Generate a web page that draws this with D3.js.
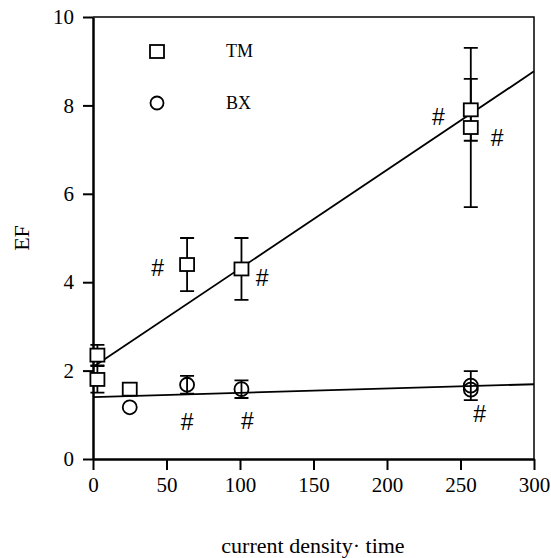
<!DOCTYPE html>
<html>
<head>
<meta charset="utf-8">
<script src="https://cdn.jsdelivr.net/npm/d3@7"></script>
<style>
  body { margin: 0; background: #fff; }
</style>
</head>
<body>
<script>
"use strict";

// TM series (squares)
const tmX = [3, 3, 25, 64, 101, 257, 257];
const tmY = [2.35, 1.8, 1.58, 4.4, 4.3, 7.9, 7.5];
const tmErr = [0.23, 0.3, 0, 0.6, 0.7, 0.7, 1.8];

// BX series (circles)
const bxX = [25, 64, 101, 257, 257];
const bxY = [1.17, 1.68, 1.58, 1.66, 1.57];
const bxErr = [0, 0.2, 0.2, 0.33, 0];

// fitted lines [intercept, slope]
const tmFit = [2.08, 0.0223];
const bxFit = [1.40, 0.00097];

// "#" marks (data coords)
const hashX = [44, 115, 235, 275, 64, 105, 263];
const hashY = [4.32, 4.1, 7.74, 7.26, 0.84, 0.86, 1.02];

const xTicks = [0, 50, 100, 150, 200, 250, 300];
const yTicks = [0, 2, 4, 6, 8, 10];

var serif = "'Liberation Serif', 'Times New Roman', serif";
var sans = "'Liberation Sans', Arial, sans-serif";

var width = 551, height = 558;
var margin = {top: 17, right: 17, bottom: 99, left: 93};

var x = d3.scaleLinear().domain([0, 300]).range([margin.left, width - margin.right]);
var y = d3.scaleLinear().domain([0, 10]).range([height - margin.bottom, margin.top]);

var svg = d3.select("body").append("svg")
    .attr("width", width)
    .attr("height", height);

// frame top/right
svg.append("path")
    .attr("d", "M" + x(0) + "," + y(10) + "H" + x(300) + "V" + y(0))
    .attr("fill", "none").attr("stroke", "#000").attr("stroke-width", 1.5);

// axes
var xAxis = svg.append("g")
    .attr("transform", "translate(0," + y(0) + ")")
    .call(d3.axisBottom(x).tickValues(xTicks).tickSize(11).tickSizeOuter(0).tickPadding(7));
var yAxis = svg.append("g")
    .attr("transform", "translate(" + x(0) + ",0)")
    .call(d3.axisLeft(y).tickValues(yTicks).tickSize(10).tickSizeOuter(0).tickPadding(9));

[xAxis, yAxis].forEach(function(g) {
  g.select(".domain").attr("stroke-width", 2.5);
  g.selectAll(".tick line").attr("stroke-width", 2);
  g.selectAll(".tick text")
    .style("font-family", serif)
    .style("font-size", "21px")
    .attr("fill", "#000");
});

// fit lines
function fitLine(f) {
  return d3.line()([[x(0), y(f[0])], [x(300), y(f[0] + f[1] * 300)]]);
}
svg.append("path").attr("d", fitLine(tmFit)).attr("stroke", "#000").attr("stroke-width", 1.8).attr("fill", "none");
svg.append("path").attr("d", fitLine(bxFit)).attr("stroke", "#000").attr("stroke-width", 1.8).attr("fill", "none");

// error bars
function errorBars(xs, ys, es) {
  var g = svg.append("g").attr("stroke", "#000").attr("stroke-width", 1.8).attr("fill", "none");
  xs.forEach(function(xv, i) {
    if (!es[i]) return;
    var cx = x(xv), y1 = y(ys[i] + es[i]), y0 = y(ys[i] - es[i]);
    g.append("path").attr("d",
      "M" + cx + "," + y0 + "V" + y1 +
      "M" + (cx - 7) + "," + y1 + "H" + (cx + 7) +
      "M" + (cx - 7) + "," + y0 + "H" + (cx + 7));
  });
}
errorBars(tmX, tmY, tmErr);
errorBars(bxX, bxY, bxErr);

// markers
svg.append("g").selectAll("rect")
  .data(tmX.map(function(d, i) { return [d, tmY[i]]; }))
  .enter().append("rect")
    .attr("x", function(d) { return x(d[0]) - 7; })
    .attr("y", function(d) { return y(d[1]) - 6.5; })
    .attr("width", 14).attr("height", 13)
    .attr("fill", "#fff").attr("stroke", "#000").attr("stroke-width", 1.8);

svg.append("g").selectAll("circle")
  .data(bxX.map(function(d, i) { return [d, bxY[i]]; }))
  .enter().append("circle")
    .attr("cx", function(d) { return x(d[0]); })
    .attr("cy", function(d) { return y(d[1]); })
    .attr("r", 7)
    .attr("fill", "none").attr("stroke", "#000").attr("stroke-width", 1.8);

// # marks
svg.append("g").selectAll("text")
  .data(hashX.map(function(d, i) { return [d, hashY[i]]; }))
  .enter().append("text")
    .attr("x", function(d) { return x(d[0]); })
    .attr("y", function(d) { return y(d[1]); })
    .attr("dy", "0.35em")
    .attr("text-anchor", "middle")
    .style("font-family", sans)
    .style("font-size", "23px")
    .text("#");

// legend
var leg = svg.append("g");
leg.append("rect").attr("x", 150).attr("y", 45).attr("width", 14).attr("height", 13)
  .attr("fill", "#fff").attr("stroke", "#000").attr("stroke-width", 1.8);
leg.append("circle").attr("cx", 157).attr("cy", 103).attr("r", 6.5)
  .attr("fill", "none").attr("stroke", "#000").attr("stroke-width", 1.8);
leg.selectAll("text.lab")
  .data([["TM", 51], ["BX", 103]])
  .enter().append("text")
    .attr("class", "lab")
    .attr("x", 226).attr("y", function(d) { return d[1]; })
    .attr("dy", "0.35em")
    .style("font-family", serif)
    .style("font-size", "18px")
    .text(function(d) { return d[0]; });

// axis titles
svg.append("text")
    .attr("transform", "translate(29," + y(5) + ") rotate(-90)")
    .attr("text-anchor", "middle")
    .style("font-family", serif)
    .style("font-size", "22px")
    .text("EF");
svg.append("text")
    .attr("x", 313).attr("y", 553)
    .attr("text-anchor", "middle")
    .style("font-family", serif)
    .style("font-size", "22px")
    .text("current density\u00b7 time");
</script>
</body>
</html>
